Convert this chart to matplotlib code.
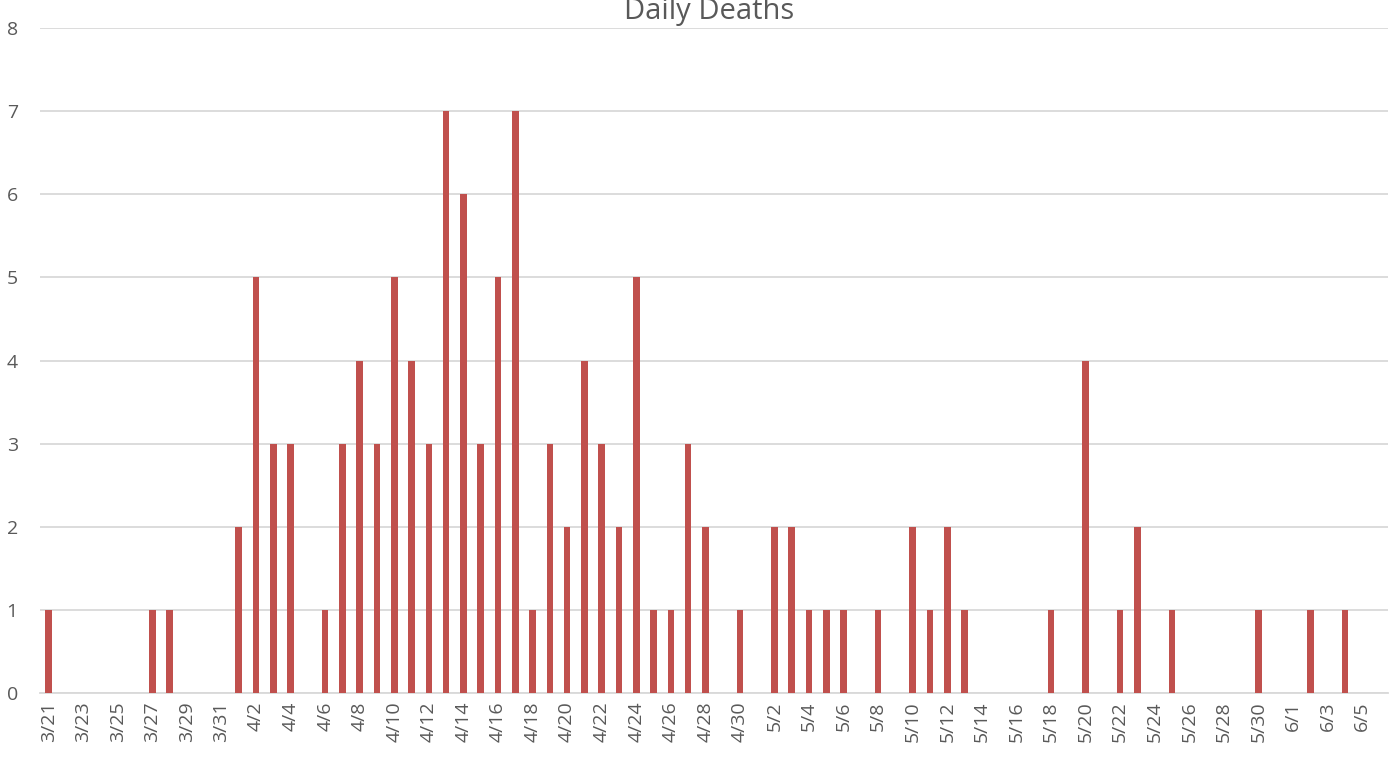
import pandas as pd
import matplotlib.pyplot as plt

# dates 3/21 .. 6/6 (one bar slot per day)
dates = pd.date_range('2020-03-21', '2020-06-06', freq='D')
labels = [f'{d.month}/{d.day}' for d in dates]

# daily deaths (0 where there is no bar)
deaths = [
    1, 0, 0, 0, 0, 0, 1, 1, 0, 0, 0,        # 3/21 - 3/31
    2, 5, 3, 3, 0, 1, 3, 4, 3, 5,           # 4/1 - 4/10
    4, 3, 7, 6, 3, 5, 7, 1, 3, 2,           # 4/11 - 4/20
    4, 3, 2, 5, 1, 1, 3, 2, 0, 1,           # 4/21 - 4/30
    0, 2, 2, 1, 1, 1, 0, 1, 0, 2,           # 5/1 - 5/10
    1, 2, 1, 0, 0, 0, 0, 1, 0, 4,           # 5/11 - 5/20
    0, 1, 2, 0, 1, 0, 0, 0, 0, 1, 0,        # 5/21 - 5/31
    0, 1, 0, 1, 0, 0,                       # 6/1 - 6/6
]

plt.rcParams['font.family'] = ['Open Sans', 'DejaVu Sans']

fig = plt.figure(figsize=(13.96, 7.57), dpi=100)
ax = fig.add_axes([40 / 1396, 1 - 693 / 757, 1348 / 1396, 665 / 757])

x = range(len(deaths))
ax.bar(x, deaths, width=0.38, color='#c0504d', zorder=3)

ax.set_xlim(-0.5, len(deaths) - 0.5)
ax.set_ylim(0, 8)
ax.set_yticks(range(0, 9))
ax.grid(axis='y', color='#d9d9d9', linewidth=1.3, zorder=0)

ax.set_xticks(list(x)[::2])
ax.set_xticklabels(labels[::2], rotation=90)
ax.tick_params(axis='x', length=0, pad=6, labelsize=14, labelcolor='#595959')
ax.tick_params(axis='y', length=0, pad=16, labelsize=14, labelcolor='#595959')

for side in ['top', 'right', 'left']:
    ax.spines[side].set_visible(False)
ax.spines['bottom'].set_color('#d9d9d9')
ax.spines['bottom'].set_linewidth(1.3)

fig.text(709 / 1396, 1 - 12 / 757, 'Daily Deaths', ha='center', va='center',
         fontsize=21, color='#595959')

fig.savefig('out.png', dpi=100)
